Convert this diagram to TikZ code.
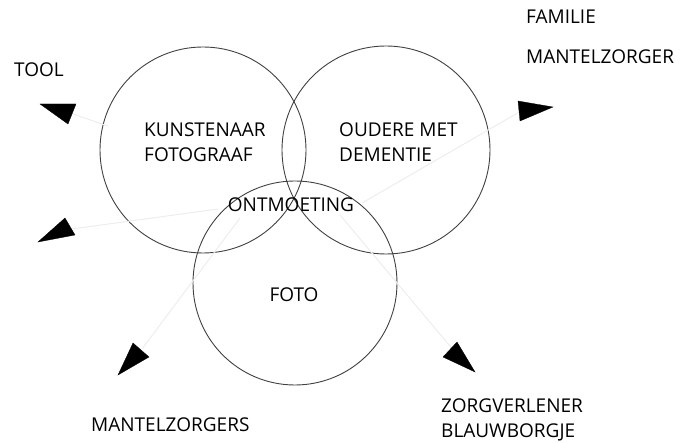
\documentclass[tikz,border=0pt]{standalone}
\usepackage{fontspec}
\setmainfont{Open Sans}
\begin{document}
\begin{tikzpicture}[x=1pt,y=-1pt,
  ring/.style={draw=black!75,line width=0.9pt},
  lbl/.style={inner sep=0pt,font=\fontsize{19}{25}\selectfont,text=black,align=left},
  faint/.style={draw=black!7,line width=1pt},
  tri/.style={fill=black,draw=black,line width=0.3pt,line join=miter}]
\useasboundingbox (0,0) rectangle (681,443);
% circles
\node[ring,circle,minimum size=206pt,inner sep=0pt] (c1) at (203,150) {};
\node[ring,circle,minimum size=208pt,inner sep=0pt] (c2) at (386,150) {};
\node[ring,circle,minimum size=204pt,inner sep=0pt] (c3) at (295,283) {};
% labels
\node[lbl,anchor=west] (tool) at (14,70) {TOOL};
\node[lbl,anchor=west] (fam) at (526,17) {FAMILIE};
\node[lbl,anchor=west] (mz) at (526,57) {MANTELZORGER};
\node[lbl,anchor=west] (kun) at (144,142) {KUNSTENAAR\\FOTOGRAAF};
\node[lbl,anchor=west] (oud) at (339,142) {OUDERE MET\\DEMENTIE};
\node[lbl] (ont) at (291,205) {ONTMOETING};
\node[lbl] (foto) at (294,295) {FOTO};
\node[lbl,anchor=west] (mzs) at (91,425) {MANTELZORGERS};
\node[lbl,anchor=west] (zorg) at (441,420) {ZORGVERLENER\\BLAUWBORGJE};
% line ends
\coordinate (s1) at (108,126);
\coordinate (s2) at (218,209);
\coordinate (s3) at (362,203);
\coordinate (s4) at (240,218);
\coordinate (s5) at (340,215);
\coordinate (e1) at (70,113);
\coordinate (e2) at (72,229);
\coordinate (e3) at (521,111);
\coordinate (e4) at (142,349);
\coordinate (e5) at (460,358);
\draw[faint] (s1) -- (e1);
\draw[faint] (s2) -- (e2);
\draw[faint] (s3) -- (e3);
\draw[faint] (s4) -- (e4);
\draw[faint] (s5) -- (e5);
% triangles
\fill[tri] (40,104) -- (76,104) -- (68,124) -- cycle;
\fill[tri] (38,242) -- (65,218) -- (75,235) -- cycle;
\fill[tri] (518,101) -- (553,107) -- (520,121) -- cycle;
\fill[tri] (118,375) -- (133,343) -- (149,357) -- cycle;
\fill[tri] (443,357) -- (457,342) -- (475,372) -- cycle;
\end{tikzpicture}
\end{document}
